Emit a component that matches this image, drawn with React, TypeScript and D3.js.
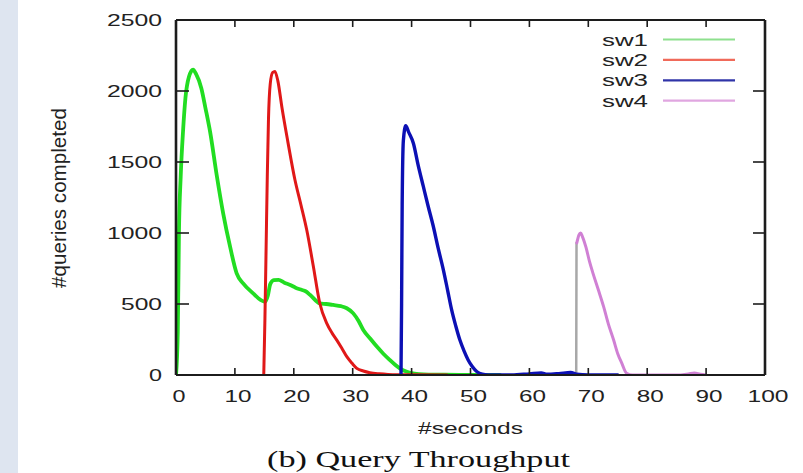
import React from "react";
import * as d3 from "d3";

const xTicks = [0, 10, 20, 30, 40, 50, 60, 70, 80, 90, 100];
const yTicks = [0, 500, 1000, 1500, 2000, 2500];

const sw1: [number, number][] = [
  [0, 0], [0.3, 300], [0.5, 1000], [0.8, 1400], [1.2, 1720], [1.6, 1950], [2.2, 2100], [2.9, 2150],
  [3.4, 2120], [4.3, 2020], [5.0, 1880], [5.8, 1710], [6.9, 1410], [8.0, 1140], [9.2, 900],
  [10.3, 716], [11.4, 645], [13.1, 575], [14.3, 530], [15.1, 516], [15.6, 560], [16.0, 640],
  [16.6, 668], [17.4, 670], [18.4, 650], [19.4, 634], [20.3, 615], [21.3, 600], [22.0, 590],
  [22.8, 563], [24.4, 505], [25.5, 500], [26.7, 493], [28.0, 485], [29.0, 470], [30.1, 434],
  [31.0, 380], [31.8, 317], [33.0, 255], [34.1, 200], [35.2, 150], [36.3, 106], [37.2, 72],
  [38.0, 47], [39.2, 23], [40.5, 10], [42, 4], [45, 2], [50, 0], [55, 0],
];

const sw2: [number, number][] = [
  [14.9, 0], [15.1, 400], [15.3, 900], [15.5, 1400], [15.7, 1800], [16.0, 2050], [16.4, 2130],
  [16.8, 2138], [17.3, 2070], [18.0, 1880], [19.0, 1640], [20.2, 1373], [21.2, 1200], [22.2, 1021],
  [23.3, 770], [24.4, 507], [25.6, 364], [26.5, 295], [27.3, 246], [28.2, 185], [29.0, 129],
  [29.9, 82], [30.7, 47], [31.8, 28], [32.9, 16], [34.5, 8], [36, 4], [40, 1], [46, 0],
];

const sw3: [number, number][] = [
  [38.2, 0], [38.3, 500], [38.4, 1200], [38.6, 1650], [39.0, 1755], [39.5, 1710], [40.3, 1632],
  [41.1, 1480], [42.0, 1326], [42.8, 1190], [43.7, 1044], [44.5, 895], [45.4, 739], [46.1, 600],
  [46.8, 458], [47.5, 345], [48.2, 246], [48.9, 170], [49.6, 106], [50.3, 60], [51.1, 23],
  [52, 6], [53, 1], [57, 0], [60, 8], [62, 14], [63, 5], [65, 10], [67, 18], [68, 6], [70, 0], [75, 0],
];

const sw4: [number, number][] = [
  [68.05, 930], [68.4, 985], [68.7, 1000], [69.0, 975], [69.6, 900], [70.2, 800], [70.8, 716],
  [71.7, 600], [72.6, 481], [73.4, 360], [74.3, 246], [75.0, 150], [75.7, 82], [76.5, 12],
  [77.5, 0], [85, 0], [87, 8], [88, 14], [89, 5], [90, 0],
];

const grayRise: [number, number][] = [
  [67.95, 0], [68.0, 930],
];

const legendNames = ["sw1", "sw2", "sw3", "sw4"];

export default function App() {
  const W = 803, H = 473;
  const L = 176, R = 765, T = 20, B = 375;
  const x = d3.scaleLinear().domain([0, 100]).range([L, R]);
  const y = d3.scaleLinear().domain([0, 2500]).range([B, T]);
  const line = d3.line<[number, number]>().x((d) => x(d[0])).y((d) => y(d[1])).curve(d3.curveMonotoneX);
  const straight = d3.line<[number, number]>().x((d) => x(d[0])).y((d) => y(d[1]));

  const series = [
    { data: sw1, color: "#22dd22", w: 3.8, legend: "#8ee08e" },
    { data: sw2, color: "#e01818", w: 3, legend: "#f06a5a" },
    { data: sw3, color: "#0c10b4", w: 3.4, legend: "#3034a8" },
    { data: sw4, color: "#d080d4", w: 3, legend: "#e0a6e0" },
  ];

  const sans = "'Liberation Sans', Arial, Helvetica, sans-serif";
  const serif = "'Liberation Serif', 'Times New Roman', serif";

  return (
    <svg width={W} height={H} style={{ position: "absolute", left: 0, top: 0, background: "#fff" }}>
      <rect x={0} y={0} width={W} height={H} fill="#ffffff" />
      <rect x={0} y={0} width={18} height={H} fill="#dee5f0" />
      <defs>
        <clipPath id="plot">
          <rect x={L} y={T} width={R - L} height={B - T} />
        </clipPath>
      </defs>

      {/* curves */}
      <g clipPath="url(#plot)" fill="none" strokeLinejoin="round" strokeLinecap="round">
        <path d={straight(grayRise) || ""} stroke="#a8a8a8" strokeWidth={2.5} />
        {series.map((s, i) => (
          <path key={i} d={line(s.data) || ""} stroke={s.color} strokeWidth={s.w} />
        ))}
      </g>

      {/* frame */}
      <g stroke="#1c1c1c" fill="none">
        <line x1={L} y1={T} x2={R} y2={T} strokeWidth={2} />
        <line x1={L} y1={B} x2={R} y2={B} strokeWidth={2.2} />
        <line x1={L} y1={T} x2={L} y2={B} strokeWidth={2.6} />
        <line x1={R} y1={T} x2={R} y2={B} strokeWidth={2.6} />
        {xTicks.slice(1, -1).map((t) => (
          <g key={"xt" + t}>
            <line x1={x(t)} x2={x(t)} y1={B} y2={B - 7} strokeWidth={1.6} />
            <line x1={x(t)} x2={x(t)} y1={T} y2={T + 7} strokeWidth={1.6} />
          </g>
        ))}
        {yTicks.slice(1, -1).map((t) => (
          <g key={"yt" + t}>
            <line x1={L} x2={L + 13} y1={y(t)} y2={y(t)} strokeWidth={1.6} />
            <line x1={R} x2={R - 12} y1={y(t)} y2={y(t)} strokeWidth={1.6} />
          </g>
        ))}
      </g>

      {/* tick labels */}
      <g fontFamily={sans} fontSize={17} fill="#222">
        {yTicks.map((t) => {
          const s = String(t);
          return (
            <text key={"yl" + t} x={162} y={y(t) + 6} textAnchor="end"
              textLength={s.length * 14 - 1} lengthAdjust="spacingAndGlyphs">{s}</text>
          );
        })}
        {xTicks.map((t) => {
          const s = String(t);
          const w = s.length * 14 - 1;
          return (
            <text key={"xl" + t} x={x(t) + 3 - w / 2} y={402}
              textLength={w} lengthAdjust="spacingAndGlyphs">{s}</text>
          );
        })}
        <text x={418} y={434} textLength={105} lengthAdjust="spacingAndGlyphs">#seconds</text>
        <g transform="translate(66,198) scale(1.4,1) rotate(-90)">
          <text x={0} y={0} textAnchor="middle" fontSize={15}
            textLength={180} lengthAdjust="spacingAndGlyphs">#queries completed</text>
        </g>
      </g>

      {/* legend */}
      <g fontFamily={sans} fontSize={17} fill="#222">
        {legendNames.map((n, i) => {
          const ly = 39.5 + i * 20.4;
          return (
            <g key={n}>
              <text x={602} y={ly + 6} textLength={46} lengthAdjust="spacingAndGlyphs">{n}</text>
              <line x1={663} x2={735} y1={ly} y2={ly} stroke={series[i].legend} strokeWidth={2.2} />
            </g>
          );
        })}
      </g>

      {/* caption */}
      <text x={267} y={467} fontFamily={serif} fontSize={24} fill="#111"
        textLength={303} lengthAdjust="spacingAndGlyphs">(b) Query Throughput</text>
    </svg>
  );
}
